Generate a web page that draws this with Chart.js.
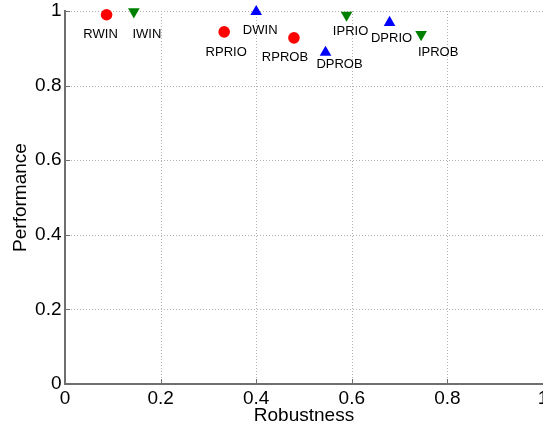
<!DOCTYPE html>
<html>
<head>
<meta charset="utf-8">
<script src="https://cdn.jsdelivr.net/npm/chart.js@4/dist/chart.umd.min.js"></script>
<style>
html, body { margin: 0; padding: 0; background: #fff; }
</style>
</head>
<body>
<canvas id="chart" width="543" height="425"></canvas>
<script>
// tick values
const xTicks = [0, 0.2, 0.4, 0.6, 0.8, 1];
const yTicks = [0, 0.2, 0.4, 0.6, 0.8, 1];

// R series (red circles)
const rNames = ["RWIN", "RPRIO", "RPROB"];
const rRobustness = [0.087, 0.333, 0.479];
const rPerformance = [0.990, 0.944, 0.928];

// I series (green down triangles)
const iNames = ["IWIN", "IPRIO", "IPROB"];
const iRobustness = [0.144, 0.589, 0.745];
const iPerformance = [0.998, 0.989, 0.937];

// D series (blue up triangles)
const dNames = ["DWIN", "DPROB", "DPRIO"];
const dRobustness = [0.400, 0.545, 0.679];
const dPerformance = [0.998, 0.889, 0.969];

const FONT = "'Liberation Sans', Arial, Helvetica, sans-serif";
const AXIS_COLOR = "#6f6f6f";

// where each text sits relative to its marker, in pixels
const labelOffsets = {
    RWIN: [-6, 20], RPRIO: [2, 21], RPROB: [-9, 20],
    IWIN: [13, 22.5], IPRIO: [4, 16], IPROB: [17, 18],
    DWIN: [4, 18.5], DPROB: [14, 12.5], DPRIO: [2, 15.5],
};

function toPoints(xs, ys) {
    return xs.map((x, i) => ({ x: x, y: ys[i] }));
}

const names = [rNames, iNames, dNames];

const gridPlugin = {
    id: "matlabGrid",
    beforeDatasetsDraw(chart) {
        const ctx = chart.ctx;
        const area = chart.chartArea;
        const xs = chart.scales.x;
        const ys = chart.scales.y;
        ctx.save();
        ctx.strokeStyle = "#b0b0b0";
        ctx.lineWidth = 1;
        ctx.setLineDash([1, 2]);
        xTicks.forEach(v => {
            if (v === 0) return;
            const px = Math.round(xs.getPixelForValue(v)) + 0.5;
            ctx.beginPath();
            ctx.moveTo(px, area.bottom);
            ctx.lineTo(px, area.top);
            ctx.stroke();
        });
        yTicks.forEach(v => {
            if (v === 0) return;
            const py = Math.round(ys.getPixelForValue(v)) + 0.5;
            ctx.beginPath();
            ctx.moveTo(area.left, py);
            ctx.lineTo(area.right, py);
            ctx.stroke();
        });
        // inward tick marks
        ctx.setLineDash([]);
        ctx.strokeStyle = AXIS_COLOR;
        xTicks.forEach(v => {
            if (v === 0) return;
            const px = Math.round(xs.getPixelForValue(v)) + 0.5;
            ctx.beginPath();
            ctx.moveTo(px, area.bottom);
            ctx.lineTo(px, area.bottom - 5);
            ctx.stroke();
        });
        yTicks.forEach(v => {
            if (v === 0) return;
            const py = Math.round(ys.getPixelForValue(v)) + 0.5;
            ctx.beginPath();
            ctx.moveTo(area.left, py);
            ctx.lineTo(area.left + 5, py);
            ctx.stroke();
        });
        ctx.restore();
    },
    afterDatasetsDraw(chart) {
        const ctx = chart.ctx;
        ctx.save();
        ctx.font = "13px " + FONT;
        ctx.fillStyle = "#000";
        ctx.textAlign = "center";
        ctx.textBaseline = "middle";
        names.forEach((list, di) => {
            const meta = chart.getDatasetMeta(di);
            meta.data.forEach((pt, j) => {
                const off = labelOffsets[list[j]] || [0, 18];
                ctx.fillText(list[j], pt.x + off[0], pt.y + off[1]);
            });
        });
        ctx.restore();
    },
};

new Chart(document.getElementById("chart"), {
    type: "scatter",
    data: {
        datasets: [
            {
                label: "R",
                data: toPoints(rRobustness, rPerformance),
                pointStyle: "circle",
                pointRadius: 5.8,
                backgroundColor: "#ff0000",
                borderWidth: 0,
                clip: false,
            },
            {
                label: "I",
                data: toPoints(iRobustness, iPerformance),
                pointStyle: "triangle",
                rotation: 180,
                pointRadius: 6.75,
                backgroundColor: "#008000",
                borderWidth: 0,
                clip: false,
            },
            {
                label: "D",
                data: toPoints(dRobustness, dPerformance),
                pointStyle: "triangle",
                pointRadius: 6.75,
                backgroundColor: "#0000ff",
                borderWidth: 0,
                clip: false,
            },
        ],
    },
    options: {
        responsive: false,
        animation: false,
        layout: { autoPadding: false, padding: { top: 11, left: 0, right: 0, bottom: 0 } },
        plugins: {
            legend: { display: false },
            tooltip: { enabled: false },
        },
        scales: {
            x: {
                type: "linear",
                min: 0,
                max: 1,
                afterBuildTicks: s => { s.ticks = xTicks.map(v => ({ value: v })); },
                afterFit: s => { s.height = 41; s.paddingLeft = 0; s.paddingRight = 0; },
                grid: { display: false, drawTicks: false },
                border: { display: true, color: AXIS_COLOR, width: 2 },
                ticks: {
                    font: { family: FONT, size: 19 },
                    color: "#000",
                    padding: 3,
                    maxRotation: 0,
                    autoSkip: false,
                    callback: v => String(v),
                },
                title: {
                    display: true,
                    text: "Robustness",
                    color: "#000",
                    font: { family: FONT, size: 19, lineHeight: 1 },
                    padding: { top: 0, bottom: 0 },
                },
            },
            y: {
                type: "linear",
                min: 0,
                max: 1,
                afterBuildTicks: s => { s.ticks = yTicks.map(v => ({ value: v })); },
                afterFit: s => { s.width = 65; s.paddingTop = 0; s.paddingBottom = 0; },
                grid: { display: false, drawTicks: false },
                border: { display: true, color: AXIS_COLOR, width: 2 },
                ticks: {
                    font: { family: FONT, size: 19 },
                    color: "#000",
                    padding: 3.5,
                    autoSkip: false,
                    callback: v => String(v),
                },
                title: {
                    display: true,
                    text: "Performance",
                    color: "#000",
                    font: { family: FONT, size: 19, lineHeight: 1 },
                    padding: { top: 11, bottom: 0 },
                },
            },
        },
    },
    plugins: [gridPlugin],
});
</script>
</body>
</html>
